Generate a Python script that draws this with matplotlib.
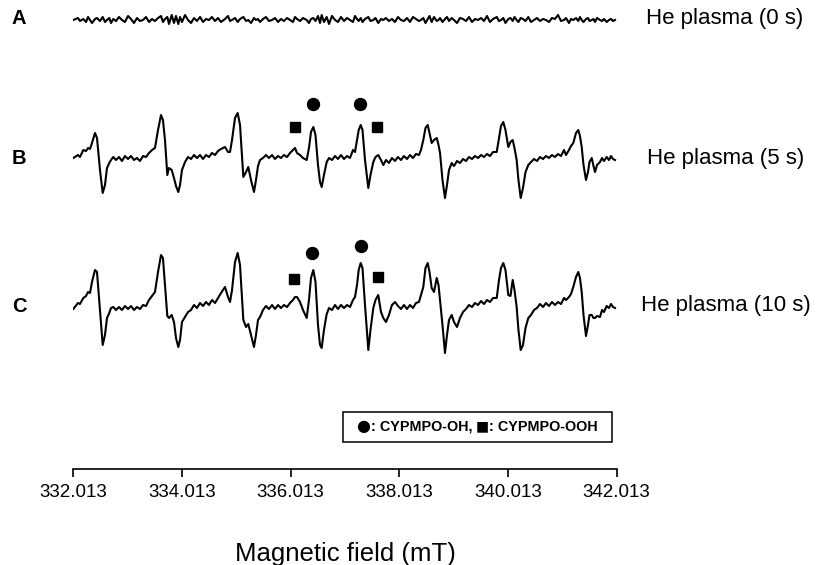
import matplotlib
matplotlib.use("Agg")
import matplotlib.pyplot as plt
from matplotlib.patches import Rectangle
from matplotlib.offsetbox import TextArea, HPacker, AnchoredOffsetbox

plt.rcParams['font.family'] = ['Liberation Sans', 'DejaVu Sans']

# ---------------- data ----------------
field = [
    332.013, 332.099, 332.136, 332.197, 332.247, 332.284, 332.320, 332.357, 332.412, 332.449,
    332.504, 332.554, 332.596, 332.633, 332.675, 332.707, 332.749, 332.799, 332.854, 332.909,
    332.964, 333.020, 333.075, 333.130, 333.185, 333.240, 333.296, 333.351, 333.406, 333.461,
    333.516, 333.572, 333.627, 333.663, 333.700, 333.743, 333.774, 333.824, 333.866, 333.903,
    333.945, 333.977, 334.013, 334.069, 334.124, 334.179, 334.234, 334.289, 334.345, 334.400,
    334.455, 334.510, 334.565, 334.621, 334.676, 334.731, 334.805, 334.860, 334.897, 334.934,
    334.989, 335.038, 335.081, 335.142, 335.192, 335.233, 335.283, 335.338, 335.375, 335.412,
    335.449, 335.504, 335.559, 335.614, 335.670, 335.725, 335.780, 335.835, 335.890, 335.946,
    336.001, 336.056, 336.093, 336.130, 336.185, 336.240, 336.308, 336.350, 336.387, 336.430,
    336.470, 336.516, 336.553, 336.584, 336.626, 336.676, 336.719, 336.774, 336.829, 336.884,
    336.939, 336.995, 337.050, 337.105, 337.160, 337.197, 337.234, 337.265, 337.302, 337.335,
    337.381, 337.442, 337.482, 337.534, 337.574, 337.625, 337.675, 337.718, 337.767, 337.822,
    337.877, 337.933, 337.988, 338.043, 338.098, 338.154, 338.209, 338.264, 338.319, 338.374,
    338.411, 338.454, 338.494, 338.535, 338.568, 338.608, 338.651, 338.701, 338.734, 338.762,
    338.807, 338.853, 338.890, 338.927, 338.977, 339.019, 339.074, 339.129, 339.185, 339.240,
    339.295, 339.350, 339.405, 339.461, 339.516, 339.571, 339.626, 339.681, 339.737, 339.805,
    339.847, 339.884, 339.926, 339.966, 340.018, 340.058, 340.099, 340.132, 340.172, 340.205,
    340.246, 340.288, 340.335, 340.386, 340.436, 340.491, 340.546, 340.601, 340.657, 340.712,
    340.767, 340.822, 340.877, 340.933, 340.988, 341.043, 341.080, 341.135, 341.172, 341.214,
    341.264, 341.306, 341.337, 341.369, 341.402, 341.448, 341.485, 341.512, 341.553, 341.586,
    341.614, 341.651, 341.706, 341.743, 341.780, 341.829, 341.871, 341.908, 341.945, 341.982,
]

signal_A = [
    0, 2, -1, 1, -2, 3, 0, -3, 1, 2,
    -1, 3, -2, 0, 2, -3, 1, -1, 3, 0,
    -2, 4, 1, -3, 2, -1, 0, 3, -2, 1,
    -1, 2, 4, -2, 1, 3, -4, 5, -3, 4,
    -4, 3, -2, 5, 0, -3, 2, -1, 3, -2,
    1, 0, 3, -1, 2, -2, 1, 4, -1, 0,
    2, -2, 1, 3, -1, 0, -3, 2, 0, 1,
    -2, 1, 3, -1, 0, 2, -2, 1, -1, 2,
    0, -2, 3, 1, -1, 2, 0, -3, 1, 2,
    -1, 4, -3, 5, -2, 3, -4, 4, 0, -2,
    3, -1, 2, 0, -2, 4, 1, -1, 2, -2,
    1, 3, -1, 0, 2, -3, 1, 0, 2, -1,
    1, -2, 3, 0, -1, 2, -2, 3, 1, -1,
    0, 2, -3, 1, 4, -2, 3, -1, 0, 2,
    -2, 1, 3, -1, 2, 0, -3, 2, 1, -1,
    3, -2, 1, 0, 2, -1, 4, -2, 1, 3,
    -1, 0, 2, -3, 1, 2, -1, 3, 0, -2,
    2, 1, -1, 3, -2, 0, 2, -1, 1, 0,
    -2, 2, 1, 5, -1, 0, 2, -3, 1, 0,
    2, -1, 3, 0, -2, 1, 2, -1, 0, 1,
    -2, 2, 0, -1, 1, -2, 0, 1, -1, 0,
]

signal_B = [
    0, 3, 1, 8, 7, 10, 9, 15, 25, 20,
    -12, -35, -27, -10, -5, -2, 1, -2, 1, -3,
    2, -1, 2, -2, 0, -3, 2, 1, 5, 8,
    10, 28, 43, 38, 18, -17, -10, -12, -20, -28,
    -34, -27, -12, -4, 1, -1, 3, 0, 3, -1,
    3, 1, 5, 3, 7, 9, 11, 6, 6, 18,
    40, 45, 33, -19, -14, -9, -22, -34, -22, -8,
    -2, 0, 3, 0, 3, -1, 2, 0, 3, 1,
    5, 8, 10, 5, 3, 0, -2, 10, 26, 31,
    23, -7, -24, -29, -17, -4, 0, -2, 2, -1,
    3, -1, 2, 0, 8, 6, 18, 28, 33, 28,
    -2, -30, -17, -4, 1, 3, -2, -7, -2, -5,
    0, -3, 1, -2, 2, -1, 3, 0, 4, 3,
    8, 18, 30, 33, 25, 15, 18, 20, 13, 5,
    -22, -40, -27, -12, -5, -8, -3, -5, -1, -3,
    1, -1, 2, 0, 3, 1, 4, 2, 6, 6,
    20, 32, 36, 28, 11, 16, 18, 10, -2, -22,
    -40, -30, -14, -7, -4, -1, -3, 1, -1, 2,
    0, 3, 1, 4, 2, 8, 3, 8, 12, 15,
    25, 28, 22, 11, -7, -22, -14, -4, 0, -8,
    -14, -7, -4, 0, -3, 1, -2, 2, -1, -2,
]

signal_C = [
    -1, 5, 4, 10, 12, 16, 15, 26, 38, 36,
    -2, -37, -27, -10, -5, 0, 1, -2, 1, -2,
    2, -1, 2, -2, 1, -1, 3, 2, 8, 12,
    16, 36, 53, 50, 23, -8, -10, -7, -14, -30,
    -39, -32, -14, -9, -4, -2, 3, 0, 5, 2,
    6, 3, 8, 5, 10, 15, 21, 11, 6, 18,
    46, 55, 43, -12, -19, -16, -27, -39, -27, -12,
    -9, -2, 2, -1, 3, -1, 3, 0, 3, 1,
    5, 8, 11, 11, 6, -2, -10, 8, 30, 38,
    26, -17, -37, -40, -22, -6, 0, -2, 3, -1,
    3, 0, 3, 1, 8, 11, 23, 38, 45, 40,
    3, -42, -22, 0, 8, 13, -4, -10, -14, -7,
    3, 6, 2, -1, 3, -1, 3, 0, 5, 6,
    13, 21, 40, 45, 36, 20, 16, 30, 23, 8,
    -17, -45, -27, -12, -7, -14, -19, -10, -4, -1,
    3, 1, 5, 3, 7, 4, 8, 6, 10, 10,
    28, 40, 45, 38, 13, 12, 28, 18, 1, -22,
    -42, -37, -20, -10, -7, -2, 0, 4, 1, 5,
    2, 6, 3, 6, 4, 10, 8, 11, 14, 21,
    31, 36, 30, 16, -7, -28, -17, -7, -7, -10,
    -10, -8, -9, -2, -4, 2, 0, 4, 1, 0,
]

trace_names = ["A", "B", "C"]
trace_labels = ["He plasma (0 s)", "He plasma (5 s)", "He plasma (10 s)"]

# adduct markers: field position and height above the trace baseline
oh_field_B = [336.416, 337.295]
oh_height_B = [54, 54]
ooh_field_B = [336.087, 337.596]
ooh_height_B = [31, 31]
oh_field_C = [336.411, 337.302]
oh_height_C = [55, 62]
ooh_field_C = [336.080, 337.615]
ooh_height_C = [29, 31]

tick_values = [332.013, 334.013, 336.013, 338.013, 340.013, 342.013]
legend_parts = ["\u25cf", ": CYPMPO-OH, ", "\u25a0", ": CYPMPO-OOH"]
xlabel_text = "Magnetic field (mT)"

# ---------------- layout ----------------
W, H = 818, 565
fig = plt.figure(figsize=(W / 100, H / 100), dpi=100)
ax_left, ax_right, ax_bottom_px = 73.3, 616.7, 469
ax = fig.add_axes([ax_left / W, (H - ax_bottom_px) / H,
                   (ax_right - ax_left) / W, ax_bottom_px / H])
ax.set_xlim(332.013, 342.013)
ax.set_ylim(0, ax_bottom_px)

baselines = {"A": 449, "B": 311, "C": 161}
signals = {"A": signal_A, "B": signal_B, "C": signal_C}

for name in trace_names:
    off = baselines[name]
    ax.plot(field, [off + v for v in signals[name]], color="black", lw=1.5,
            solid_joinstyle="round")

ax.plot(oh_field_B, [baselines["B"] + h for h in oh_height_B], "o", color="black", ms=8.6)
ax.plot(ooh_field_B, [baselines["B"] + h for h in ooh_height_B], "s", color="black", ms=7.0)
ax.plot(oh_field_C, [baselines["C"] + h for h in oh_height_C], "o", color="black", ms=8.6)
ax.plot(ooh_field_C, [baselines["C"] + h for h in ooh_height_C], "s", color="black", ms=7.0)

for s in ["left", "right", "top"]:
    ax.spines[s].set_visible(False)
ax.spines["bottom"].set_linewidth(1.2)
ax.set_yticks([])
ax.set_xticks(tick_values)
ax.set_xticklabels([f"{v:.3f}" for v in tick_values])
ax.tick_params(axis="x", direction="out", length=5.5, width=1.2,
               labelsize=13.5, pad=5, colors="black")
ax.set_xlabel(xlabel_text, fontsize=18.5, labelpad=30)

# panel letters and labels
letter_y = {"A": 18.5, "B": 158, "C": 306}
label_x = {"A": 646, "B": 647, "C": 641}
for name, lab in zip(trace_names, trace_labels):
    fig.text(12 / W, 1 - letter_y[name] / H, name, fontsize=14.5, fontweight="bold",
             va="center", ha="left")
    fig.text(label_x[name] / W, 1 - letter_y[name] / H, lab, fontsize=16,
             va="center", ha="left")

# legend box
bx0, by0, bx1, by1 = 342.7, 411.7, 611.7, 441.7
fig.patches.append(Rectangle((bx0 / W, 1 - by1 / H), (bx1 - bx0) / W, (by1 - by0) / H,
                             transform=fig.transFigure, fill=False, ec="black", lw=1.1))
sym_props = dict(fontsize=11.5, fontweight="bold", family="DejaVu Sans")
txt_props = dict(fontsize=10.4, fontweight="bold", family="Liberation Sans")
areas = [TextArea(legend_parts[0], textprops=sym_props),
         TextArea(legend_parts[1], textprops=txt_props),
         TextArea(legend_parts[2], textprops=dict(fontsize=10, fontweight="bold",
                                                  family="DejaVu Sans")),
         TextArea(legend_parts[3], textprops=txt_props)]
pack = HPacker(children=areas, align="center", pad=0, sep=0)
anch = AnchoredOffsetbox(loc="center", child=pack, frameon=False, pad=0, borderpad=0,
                         bbox_to_anchor=((bx0 + bx1) / 2 / W, 1 - (by0 + by1) / 2 / H),
                         bbox_transform=fig.transFigure)
fig.add_artist(anch)

fig.savefig("out.png", dpi=100)
